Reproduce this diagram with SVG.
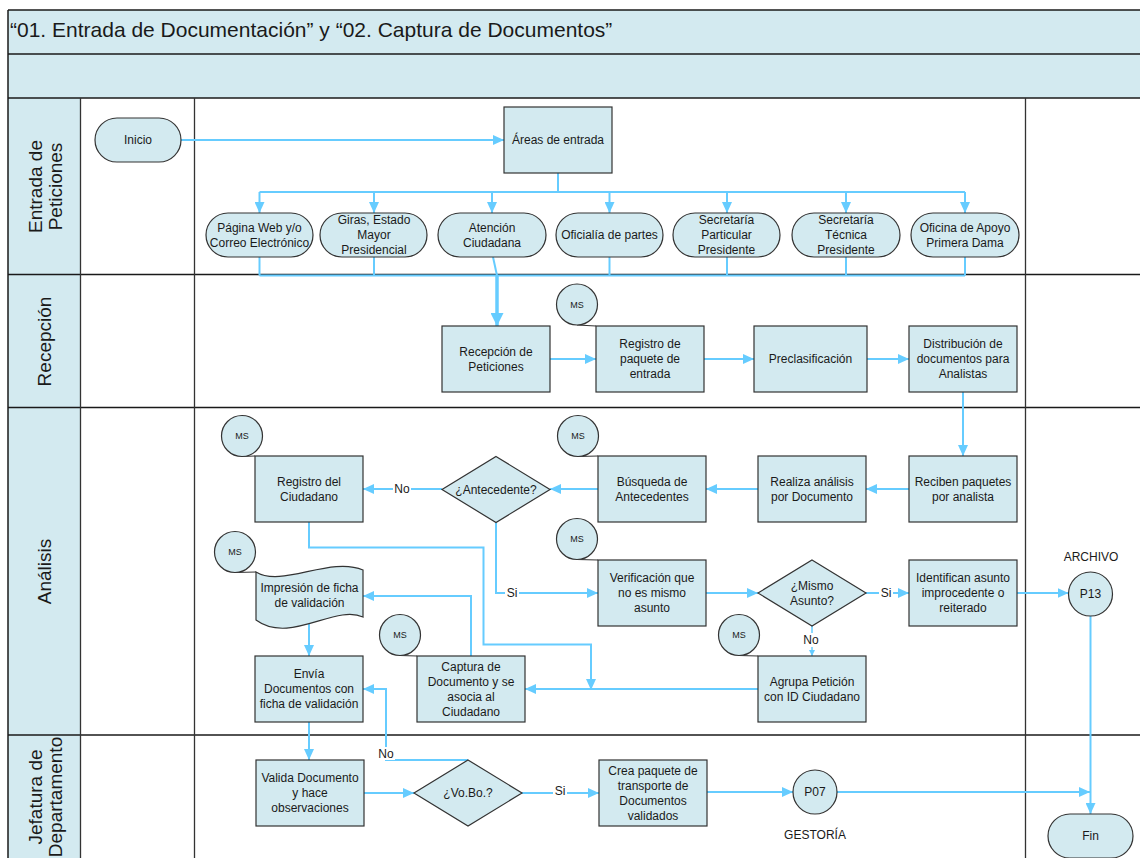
<svg xmlns="http://www.w3.org/2000/svg" width="1140" height="858" viewBox="0 0 1140 858">
<style>
  .band { fill: #D3EAF0; }
  .line { stroke: #1a1a1a; stroke-width: 1.5; fill: none; }
  .col { stroke: #333; stroke-width: 1.3; fill: none; }
  .node { fill: #D3EAF0; stroke: #333; stroke-width: 1.2; }
  .tie { stroke: #333; stroke-width: 1.2; fill: none; }
  .t { font-family: "Liberation Sans", Arial, sans-serif; font-size: 12px; fill: #1a1a1a; text-anchor: middle; }
  .ms { font-size: 9px; }
  .lane-t { font-family: "Liberation Sans", Arial, sans-serif; font-size: 19px; fill: #1a1a1a; text-anchor: middle; }
  .title { font-family: "Liberation Sans", Arial, sans-serif; font-size: 21px; fill: #1a1a1a; }
  .c { fill: none; stroke: #66CCFF; stroke-width: 2; }
  .ca { fill: none; stroke: #66CCFF; stroke-width: 2; marker-end: url(#arr); }
  .bg { fill: #ffffff; }
</style>
<defs>
  <marker id="arr" markerUnits="userSpaceOnUse" markerWidth="11" markerHeight="10" refX="11" refY="5" orient="auto">
    <path d="M0,0 L11,5 L0,10 Z" fill="#66CCFF"/>
  </marker>
  <marker id="arrBig" markerUnits="userSpaceOnUse" markerWidth="13" markerHeight="13" refX="13" refY="6.5" orient="auto">
    <path d="M0,0 L13,6.5 L0,13 Z" fill="#66CCFF"/>
  </marker>
  <marker id="arrSmall" markerUnits="userSpaceOnUse" markerWidth="6" markerHeight="6" refX="6" refY="3" orient="auto">
    <path d="M0,0 L6,3 L0,6 Z" fill="#66CCFF"/>
  </marker>
</defs>

<!-- pool frame, header bands and lanes -->
<g id="pool">
  <rect class="band" x="8" y="10" width="1140" height="88"/>
  <rect class="band" x="8" y="98" width="72.5" height="770"/>
  <text class="title" x="10" y="37">“01. Entrada de Documentación” y “02. Captura de Documentos”</text>
  <line class="line" x1="8" y1="10" x2="1140" y2="10"/>
  <line class="line" x1="8" y1="10" x2="8" y2="858"/>
  <line class="line" x1="8" y1="54" x2="1140" y2="54"/>
  <line class="line" x1="8" y1="98" x2="1140" y2="98"/>
  <line class="line" x1="8" y1="274.5" x2="1140" y2="274.5"/>
  <line class="line" x1="8" y1="407.5" x2="1140" y2="407.5"/>
  <line class="line" x1="8" y1="735" x2="1140" y2="735"/>
  <line class="col" x1="80.5" y1="98" x2="80.5" y2="858"/>
  <line class="col" x1="194.5" y1="98" x2="194.5" y2="858"/>
  <line class="col" x1="1025.5" y1="98" x2="1025.5" y2="858"/>
  <text class="lane-t" transform="translate(44,186.5) rotate(-90)"><tspan x="0" y="-2">Entrada de</tspan><tspan x="0" y="18">Peticiones</tspan></text>
  <text class="lane-t" transform="translate(44,341.5) rotate(-90)"><tspan x="0" y="6.8">Recepción</tspan></text>
  <text class="lane-t" transform="translate(44,571.5) rotate(-90)"><tspan x="0" y="6.8">Análisis</tspan></text>
  <text class="lane-t" transform="translate(44,797) rotate(-90)"><tspan x="0" y="-2">Jefatura de</tspan><tspan x="0" y="18">Departamento</tspan></text>
</g>

<!-- connectors -->
<g id="connectors">
  <path class="ca" d="M181,140 H504"/>
  <path class="c" d="M558,173 V192"/>
  <path class="c" d="M259.5,192 H965"/>
  <path class="ca" d="M259.5,192 V213"/>
  <path class="ca" d="M374,192 V213"/>
  <path class="ca" d="M492,192 V213"/>
  <path class="ca" d="M609.5,192 V213"/>
  <path class="ca" d="M727,192 V213"/>
  <path class="ca" d="M846,192 V213"/>
  <path class="ca" d="M965,192 V213"/>
  <path class="c" d="M259.5,257 V275.5"/>
  <path class="c" d="M374,257 V275.5"/>
  <path class="c" d="M493,257 L497,275.5"/>
  <path class="c" d="M609.5,257 V275.5"/>
  <path class="c" d="M727,257 V275.5"/>
  <path class="c" d="M846,257 V275.5"/>
  <path class="c" d="M965,257 V275.5"/>
  <path class="c" d="M259.5,275.5 H965"/>
  <path fill="none" stroke="#66CCFF" stroke-width="3.5" marker-end="url(#arrBig)" d="M497,275 V326"/>
  <path class="ca" d="M550,359 H596"/>
  <path class="ca" d="M704,359 H754"/>
  <path class="ca" d="M867,359 H909"/>
  <path class="ca" d="M963,392 V456"/>
  <path class="ca" d="M909,489 H866"/>
  <path class="ca" d="M758,489 H706"/>
  <path class="ca" d="M598,489 H550"/>
  <path class="ca" d="M442,489 H363"/>
  <path class="ca" d="M496,522.5 V593 H598"/>
  <path class="ca" d="M309,522 V547.5 H483.5 V644.5 H591 V690"/>
  <path class="ca" d="M706,593 H758"/>
  <path class="ca" d="M866,593 H909"/>
  <path class="ca" d="M1017,593 H1068.5"/>
  <path fill="none" stroke="#66CCFF" stroke-width="1.5" marker-end="url(#arrSmall)" d="M812,626 V656"/>
  <path class="ca" d="M758,689 H525"/>
  <path class="ca" d="M471,656 V596 H363"/>
  <path class="ca" d="M309,619 V656"/>
  <path class="ca" d="M309,722 V760"/>
  <path class="ca" d="M364,793 H414"/>
  <path class="ca" d="M522,793 H599"/>
  <path class="ca" d="M468,760 H386 V689 H363"/>
  <path class="ca" d="M707,792 H793"/>
  <path class="ca" d="M837,792 H1090"/>
  <path class="ca" d="M1090.5,616 V814"/>
  <!-- branch labels -->
  <rect class="bg" x="393" y="482" width="18" height="14"/>
  <text class="t" x="402" y="493.3">No</text>
  <rect class="bg" x="505" y="586" width="14" height="14"/>
  <text class="t" x="512" y="597.3">Si</text>
  <rect class="bg" x="879" y="586" width="14" height="14"/>
  <text class="t" x="886" y="597.3">Si</text>
  <rect class="bg" x="802" y="633" width="18" height="14"/>
  <text class="t" x="811" y="644.3">No</text>
  <rect class="bg" x="553" y="784" width="14" height="14"/>
  <text class="t" x="560" y="795.3">Si</text>
  <rect class="bg" x="377" y="747" width="18" height="13"/>
  <text class="t" x="386" y="758.3">No</text>
</g>

<!-- nodes -->
<g id="inicio"><rect class="node" x="95" y="118" width="86" height="44" rx="22"/><text class="t" x="138" y="144.3">Inicio</text></g>
<g id="areas-entrada"><rect class="node" x="504" y="107" width="108" height="66"/><text class="t" x="558" y="144.3">Áreas de entrada</text></g>

<g id="pagina-web"><rect class="node" x="206" y="213" width="107" height="44" rx="22"/><text class="t" x="259.5"><tspan x="259.5" y="231.8">Página Web y/o</tspan><tspan x="259.5" y="246.8">Correo Electrónico</tspan></text></g>
<g id="giras"><rect class="node" x="320" y="213" width="107" height="44" rx="22"/><text class="t"><tspan x="374" y="224.3">Giras, Estado</tspan><tspan x="374" y="239.3">Mayor</tspan><tspan x="374" y="254.3">Presidencial</tspan></text></g>
<g id="atencion"><rect class="node" x="438" y="213" width="108" height="44" rx="22"/><text class="t"><tspan x="492" y="231.8">Atención</tspan><tspan x="492" y="246.8">Ciudadana</tspan></text></g>
<g id="oficialia"><rect class="node" x="556" y="213" width="107" height="44" rx="22"/><text class="t" x="609.5" y="239.3">Oficialía de partes</text></g>
<g id="sec-particular"><rect class="node" x="673" y="213" width="107" height="44" rx="22"/><text class="t"><tspan x="726.5" y="224.3">Secretaría</tspan><tspan x="726.5" y="239.3">Particular</tspan><tspan x="726.5" y="254.3">Presidente</tspan></text></g>
<g id="sec-tecnica"><rect class="node" x="792" y="213" width="108" height="44" rx="22"/><text class="t"><tspan x="846" y="224.3">Secretaría</tspan><tspan x="846" y="239.3">Técnica</tspan><tspan x="846" y="254.3">Presidente</tspan></text></g>
<g id="oficina-apoyo"><rect class="node" x="911" y="213" width="108" height="44" rx="22"/><text class="t"><tspan x="965" y="231.8">Oficina de Apoyo</tspan><tspan x="965" y="246.8">Primera Dama</tspan></text></g>

<g id="recepcion"><rect class="node" x="442" y="326" width="108" height="66"/><text class="t"><tspan x="496" y="355.8">Recepción de</tspan><tspan x="496" y="370.8">Peticiones</tspan></text></g>
<g id="registro-paquete">
  <line class="tie" x1="577" y1="325" x2="596" y2="326"/>
  <circle class="node" cx="577" cy="304.5" r="20.5"/><text class="t ms" x="577" y="307.7">MS</text>
  <rect class="node" x="596" y="326" width="108" height="66"/><text class="t"><tspan x="650" y="348.3">Registro de</tspan><tspan x="650" y="363.3">paquete de</tspan><tspan x="650" y="378.3">entrada</tspan></text>
</g>
<g id="preclasificacion"><rect class="node" x="754" y="326" width="113" height="66"/><text class="t" x="810.5" y="363.3">Preclasificación</text></g>
<g id="distribucion"><rect class="node" x="909" y="326" width="108" height="66"/><text class="t"><tspan x="963" y="348.3">Distribución de</tspan><tspan x="963" y="363.3">documentos para</tspan><tspan x="963" y="378.3">Analistas</tspan></text></g>

<g id="reciben"><rect class="node" x="909" y="456" width="108" height="66"/><text class="t"><tspan x="963" y="485.8">Reciben paquetes</tspan><tspan x="963" y="500.8">por analista</tspan></text></g>
<g id="realiza"><rect class="node" x="758" y="456" width="108" height="66"/><text class="t"><tspan x="812" y="485.8">Realiza análisis</tspan><tspan x="812" y="500.8">por Documento</tspan></text></g>
<g id="busqueda">
  <line class="tie" x1="578" y1="456.5" x2="598" y2="456"/>
  <circle class="node" cx="578" cy="436" r="20.5"/><text class="t ms" x="578" y="439.2">MS</text>
  <rect class="node" x="598" y="456" width="108" height="66"/><text class="t"><tspan x="652" y="485.8">Búsqueda de</tspan><tspan x="652" y="500.8">Antecedentes</tspan></text>
</g>
<g id="antecedente"><polygon class="node" points="496,456.5 550,489.5 496,522.5 442,489.5"/><text class="t" x="496" y="493.8">¿Antecedente?</text></g>
<g id="registro-ciudadano">
  <line class="tie" x1="242" y1="456.5" x2="255" y2="456"/>
  <circle class="node" cx="242" cy="436" r="20.5"/><text class="t ms" x="242" y="439.2">MS</text>
  <rect class="node" x="255" y="456" width="108" height="66"/><text class="t"><tspan x="309" y="485.8">Registro del</tspan><tspan x="309" y="500.8">Ciudadano</tspan></text>
</g>

<g id="verificacion">
  <line class="tie" x1="577" y1="559.5" x2="598" y2="560"/>
  <circle class="node" cx="577" cy="539" r="20.5"/><text class="t ms" x="577" y="542.2">MS</text>
  <rect class="node" x="598" y="560" width="108" height="66"/><text class="t"><tspan x="652" y="582.3">Verificación que</tspan><tspan x="652" y="597.3">no es mismo</tspan><tspan x="652" y="612.3">asunto</tspan></text>
</g>
<g id="mismo-asunto"><polygon class="node" points="812,560 866,593 812,626 758,593"/><text class="t"><tspan x="812" y="589.8">¿Mismo</tspan><tspan x="812" y="604.8">Asunto?</tspan></text></g>
<g id="identifican"><rect class="node" x="909" y="560" width="108" height="66"/><text class="t"><tspan x="963" y="582.3">Identifican asunto</tspan><tspan x="963" y="597.3">improcedente o</tspan><tspan x="963" y="612.3">reiterado</tspan></text></g>
<g id="p13"><text class="t" x="1091" y="561">ARCHIVO</text><circle class="node" cx="1090.5" cy="594" r="22"/><text class="t" x="1090.5" y="598.3">P13</text></g>

<g id="impresion">
  <line class="tie" x1="235" y1="572.5" x2="256" y2="572"/>
  <circle class="node" cx="235" cy="552" r="20.5"/><text class="t ms" x="235" y="555.2">MS</text>
  <path class="node" d="M256,572 C282,588 330,556 363,570 L363,617 C335,604 290,645 256,620 Z"/>
  <text class="t"><tspan x="309.5" y="592.3">Impresión de ficha</tspan><tspan x="309.5" y="607">de validación</tspan></text>
</g>
<g id="captura">
  <line class="tie" x1="400" y1="655.5" x2="417" y2="656"/>
  <circle class="node" cx="400" cy="635" r="20.5"/><text class="t ms" x="400" y="638.2">MS</text>
  <rect class="node" x="417" y="656" width="108" height="66"/><text class="t"><tspan x="471" y="670.8">Captura de</tspan><tspan x="471" y="685.8">Documento y se</tspan><tspan x="471" y="700.8">asocia al</tspan><tspan x="471" y="715.8">Ciudadano</tspan></text>
</g>
<g id="agrupa">
  <line class="tie" x1="739" y1="655.5" x2="758" y2="656"/>
  <circle class="node" cx="739" cy="635" r="20.5"/><text class="t ms" x="739" y="638.2">MS</text>
  <rect class="node" x="758" y="656" width="108" height="66"/><text class="t"><tspan x="812" y="685.8">Agrupa Petición</tspan><tspan x="812" y="700.8">con ID Ciudadano</tspan></text>
</g>
<g id="envia"><rect class="node" x="255" y="656" width="108" height="66"/><text class="t"><tspan x="309" y="678.3">Envía</tspan><tspan x="309" y="693.3">Documentos con</tspan><tspan x="309" y="708.3">ficha de validación</tspan></text></g>

<g id="valida"><rect class="node" x="256" y="760" width="108" height="66"/><text class="t"><tspan x="310" y="782.3">Valida Documento</tspan><tspan x="310" y="797.3">y hace</tspan><tspan x="310" y="812.3">observaciones</tspan></text></g>
<g id="vobo"><polygon class="node" points="468,760 522,793 468,826 414,793"/><text class="t" x="468" y="797.3">¿Vo.Bo.?</text></g>
<g id="crea-paquete"><rect class="node" x="599" y="760" width="108" height="66"/><text class="t"><tspan x="653" y="774.8">Crea paquete de</tspan><tspan x="653" y="789.8">transporte de</tspan><tspan x="653" y="804.8">Documentos</tspan><tspan x="653" y="819.8">validados</tspan></text></g>
<g id="p07"><circle class="node" cx="815" cy="792" r="22"/><text class="t" x="815" y="796.3">P07</text><text class="t" x="815" y="839">GESTORÍA</text></g>
<g id="fin"><rect class="node" x="1048" y="814" width="85" height="44" rx="22"/><text class="t" x="1090.5" y="840.3">Fin</text></g>
</svg>
